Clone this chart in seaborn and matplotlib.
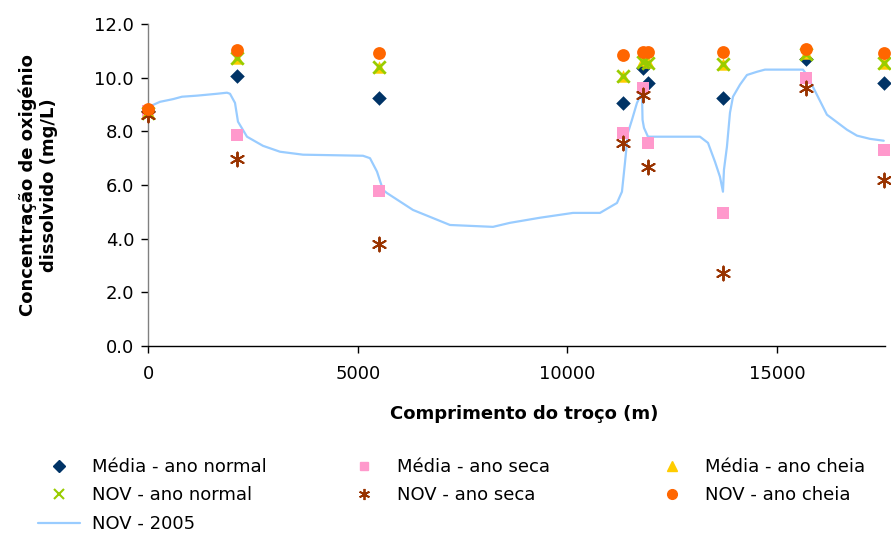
import matplotlib
matplotlib.use("Agg")
import matplotlib.pyplot as plt
import seaborn as sns
import pandas as pd
from matplotlib.lines import Line2D

# ---- data ----
stations = [0, 2130, 5510, 11320, 11800, 11920, 13710, 15690, 17540]
media_normal = [8.75, 10.07, 9.25, 9.06, 10.37, 9.81, 9.25, 10.70, 9.81]
media_seca = [8.75, 7.87, 5.78, 7.95, 9.63, 7.57, 4.96, 10.00, 7.31]
media_cheia = [8.75, 10.75, 10.40, 10.07, 10.65, 10.60, 10.52, 10.93, 10.56]
nov_normal = [8.70, 10.72, 10.38, 10.07, 10.60, 10.56, 10.50, 10.90, 10.56]
nov_seca = [8.60, 6.98, 3.80, 7.57, 9.37, 6.68, 2.72, 9.63, 6.19]
nov_cheia = [8.84, 11.04, 10.93, 10.86, 10.97, 10.97, 10.97, 11.08, 10.93]

line_x = [0, 286, 596, 810, 1168, 1645, 1883, 1955, 2074, 2145, 2360, 2741, 3147,
          3695, 5125, 5292, 5459, 5602, 5697, 6317, 7199, 8224, 8629, 9344, 10131,
          10775, 11180, 11299, 11371, 11442, 11538, 11657, 11776, 11790, 11824,
          11919, 13159, 13350, 13516, 13635, 13707, 13731, 13802, 13874, 13946,
          14113, 14279, 14518, 14708, 15614, 15709, 16186, 16663, 16901, 17211, 17540]
line_y = [8.90, 9.10, 9.20, 9.29, 9.33, 9.40, 9.44, 9.40, 9.06, 8.36, 7.80, 7.46, 7.24,
          7.13, 7.09, 7.00, 6.50, 5.82, 5.70, 5.07, 4.51, 4.44, 4.59, 4.78, 4.96,
          4.96, 5.33, 5.75, 6.83, 7.95, 8.43, 9.06, 9.44, 8.43, 8.13,
          7.80, 7.80, 7.57, 6.87, 6.31, 5.75, 6.57, 7.43, 8.69, 9.29,
          9.74, 10.10, 10.22, 10.30, 10.30, 10.10, 8.62, 8.06, 7.84, 7.72, 7.65]

x_ticks = [0, 5000, 10000, 15000]
y_ticks = [0, 2, 4, 6, 8, 10, 12]

sns.set_theme(style="white")
plt.rcParams['font.family'] = ['DejaVu Sans']
plt.rcParams['text.color'] = 'black'
plt.rcParams['axes.labelcolor'] = 'black'

FS = 13
fig = plt.figure(figsize=(8.91, 5.36), dpi=100)
ax = fig.add_axes([148/891, 1-346/536, (885-148)/891, (346-24)/536])

line_df = pd.DataFrame({"x": line_x, "y": line_y})
sns.lineplot(data=line_df, x="x", y="y", sort=False, estimator=None, ax=ax,
             color="#99CCFF", linewidth=1.6, zorder=2)

series = [
    ("Média - ano normal", media_normal, dict(marker="D", color="#003366", s=55, edgecolor="#003366", linewidth=0)),
    ("Média - ano seca", media_seca, dict(marker="s", color="#FF99CC", s=75, edgecolor="#FF99CC", linewidth=0)),
    ("Média - ano cheia", media_cheia, dict(marker="^", color="#FFCC00", s=80, edgecolor="#FFCC00", linewidth=0)),
    ("NOV - ano normal", nov_normal, dict(marker="x", color="#99CC00", s=80, linewidth=2)),
    ("NOV - ano seca", nov_seca, dict(marker=(6, 2, 0), color="#993300", s=100, linewidth=1.4)),
    ("NOV - ano cheia", nov_cheia, dict(marker="o", color="#FF6600", s=85, edgecolor="#FF6600", linewidth=0)),
]
for i, (name, vals, kw) in enumerate(series):
    df = pd.DataFrame({"x": stations, "y": vals})
    sns.scatterplot(data=df, x="x", y="y", ax=ax, zorder=3 + i, clip_on=False, **kw)

ax.set_xlim(0, 17570)
ax.set_ylim(0, 12)
ax.set_xticks(x_ticks)
ax.set_yticks(y_ticks)
ax.set_yticklabels([f"{v:.1f}" for v in y_ticks])
ax.tick_params(axis="both", labelsize=FS, colors="black", length=5, width=1, direction="out",
               bottom=True, left=True)
ax.tick_params(axis="x", pad=9)
ax.tick_params(axis="y", pad=5)
for s in ["top", "right"]:
    ax.spines[s].set_visible(False)
ax.spines["left"].set_color("#808080")
ax.spines["bottom"].set_color("black")
ax.spines["left"].set_linewidth(1)
ax.spines["bottom"].set_linewidth(1)
ax.set_xlabel("Comprimento do troço (m)", fontsize=FS, fontweight="bold", color="black")
ax.set_ylabel("Concentração de oxigénio\ndissolvido (mg/L)", fontsize=FS, fontweight="bold", color="black")
ax.xaxis.set_label_coords(0.51, -0.183)
ax.yaxis.set_label_coords(-0.122, 0.5)
ax.grid(False)

h_mn = Line2D([], [], linestyle="none", marker="D", color="#003366", markersize=6)
h_nn = Line2D([], [], linestyle="none", marker="x", color="#99CC00", markersize=7, markeredgewidth=1.5)
h_ln = Line2D([], [], color="#99CCFF", linewidth=1.6)
h_ms = Line2D([], [], linestyle="none", marker="s", color="#FF99CC", markersize=6)
h_ns = Line2D([], [], linestyle="none", marker=(6, 2, 0), color="#993300", markersize=8, markeredgewidth=1.3)
h_mc = Line2D([], [], linestyle="none", marker="^", color="#FFCC00", markersize=7)
h_nc = Line2D([], [], linestyle="none", marker="o", color="#FF6600", markersize=7)

cols = [
    (38, [h_mn, h_nn, h_ln], ["Média - ano normal", "NOV - ano normal", "NOV - 2005"]),
    (343, [h_ms, h_ns], ["Média - ano seca", "NOV - ano seca"]),
    (651, [h_mc, h_nc], ["Média - ano cheia", "NOV - ano cheia"]),
]
for xpx, hs, lbs in cols:
    leg = fig.legend(hs, lbs, loc="upper left", bbox_to_anchor=(xpx/891, 1-458/536),
                     frameon=False, fontsize=FS, handlelength=2.3, handletextpad=0.7,
                     labelspacing=0.58, borderpad=0, borderaxespad=0)
    for t in leg.get_texts():
        t.set_color("black")

fig.savefig("out.png", dpi=100)
